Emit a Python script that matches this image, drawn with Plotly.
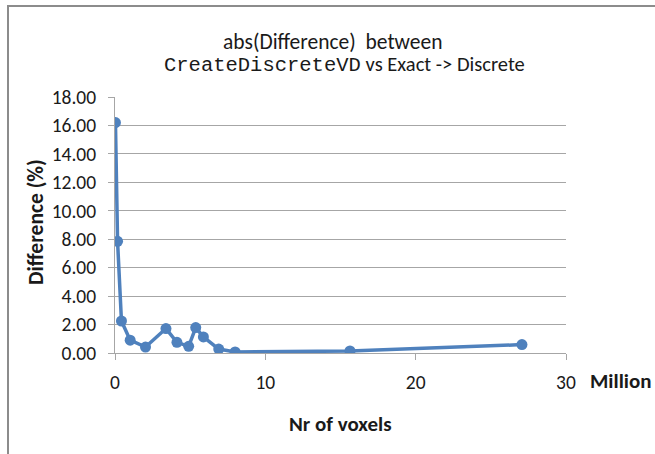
import plotly.graph_objects as go

# Data (millions of voxels vs abs difference %)
voxels_million = [0.03, 0.17, 0.43, 1.01, 2.03, 3.39, 4.12, 4.90, 5.37, 5.88, 6.90, 7.99, 15.63, 27.07]
difference_pct = [16.20, 7.85, 2.25, 0.90, 0.42, 1.72, 0.75, 0.47, 1.79, 1.13, 0.28, 0.07, 0.14, 0.59]
x_ticks = [0, 10, 20, 30]

W, H = 655, 454
L, R, T, B = 115, 566, 97, 353

def px(x):
    return (x - L) / (R - L)

def py(y):
    return (B - y) / (B - T)

FONT = "Carlito, Calibri, Lato, sans-serif"
BLUE = "#4f81bd"
GRID = "#a6a6a6"
TXT = "#1a1a1a"

fig = go.Figure()
fig.add_trace(go.Scatter(
    x=voxels_million, y=difference_pct, mode="lines+markers",
    line=dict(color=BLUE, width=3.5),
    marker=dict(color=BLUE, size=11),
    showlegend=False, hoverinfo="x+y"))

fig.update_layout(
    width=W, height=H,
    margin=dict(l=L, r=W - R, t=T, b=H - B),
    paper_bgcolor="white", plot_bgcolor="white",
    font=dict(family=FONT, color=TXT),
    xaxis=dict(range=[0, 30], tickvals=x_ticks, showgrid=False, zeroline=False,
               showline=True, linecolor=GRID, linewidth=1,
               ticks="outside", ticklen=6, tickcolor=GRID,
               tickfont=dict(size=19.5, family=FONT, color=TXT),
               ticklabelstandoff=6),
    yaxis=dict(range=[0, 18], dtick=2, tickformat=".2f", showgrid=True,
               gridcolor=GRID, gridwidth=1, zeroline=False,
               showline=True, linecolor=GRID, linewidth=1,
               ticks="outside", ticklen=6, tickcolor=GRID,
               tickfont=dict(size=19.5, family=FONT, color=TXT),
               ticklabelstandoff=8),
)

ann = [
    dict(x=px(332), y=py(42), text="abs(Difference)  between",
         font=dict(size=21.5, family=FONT)),
    dict(x=px(344), y=py(64),
         text="<span style='font-family:Liberation Mono, Courier New, monospace'>CreateDiscreteVD</span> vs Exact -&gt; Discrete",
         font=dict(size=20.5, family=FONT)),
    dict(x=px(621), y=py(381), text="<b>Million</b>", font=dict(size=21, family=FONT)),
    dict(x=px(340), y=py(424), text="<b>Nr of voxels</b>", font=dict(size=21, family=FONT)),
    dict(x=px(36), y=py(222), text="<b>Difference (%)</b>", textangle=-90,
         font=dict(size=21.5, family=FONT)),
]
for a in ann:
    fig.add_annotation(xref="paper", yref="paper", showarrow=False,
                       xanchor="center", yanchor="middle", **a)

# chart frame border (left and top edges)
fig.add_shape(type="line", xref="paper", yref="paper",
              x0=px(8), y0=py(H + 5), x1=px(8), y1=py(6),
              line=dict(color="#8c8c8c", width=2))
fig.add_shape(type="line", xref="paper", yref="paper",
              x0=px(7), y0=py(6), x1=px(W + 5), y1=py(6),
              line=dict(color="#8c8c8c", width=2))

fig.write_html("out.html", config={"displayModeBar": False},
               post_script="document.body.style.margin='0px';")
